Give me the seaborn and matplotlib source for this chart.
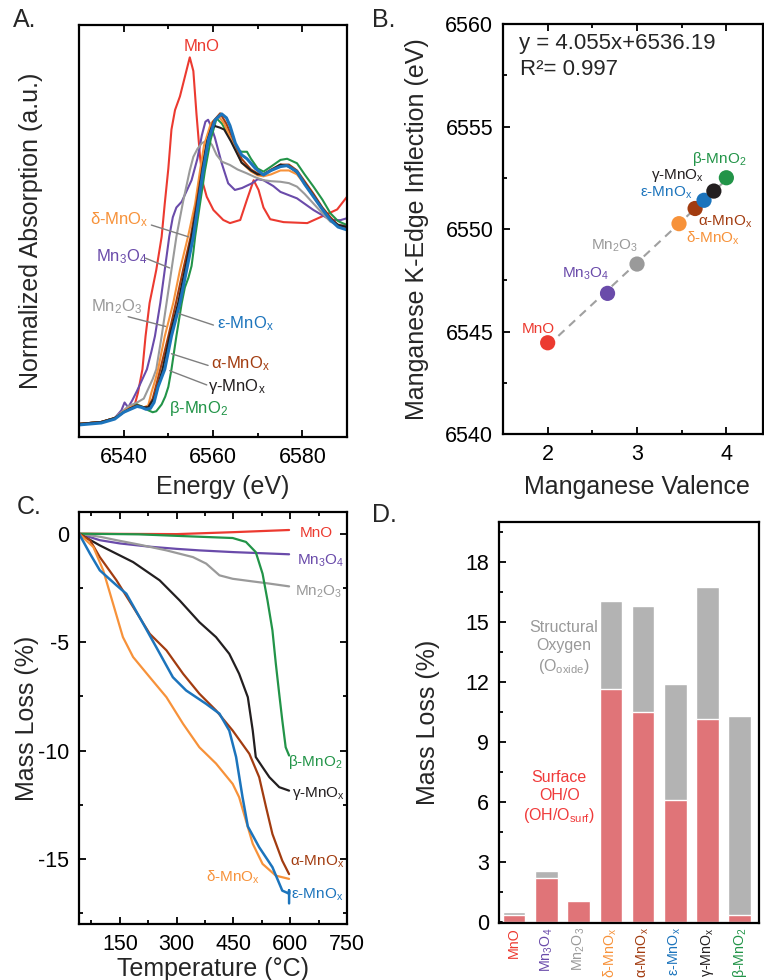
import matplotlib
matplotlib.use("Agg")
import matplotlib.pyplot as plt
import seaborn as sns
import numpy as np
from matplotlib.ticker import MultipleLocator

sns.set_style("ticks")
plt.rcParams['font.family'] = ['Liberation Sans', 'DejaVu Sans']
plt.rcParams['mathtext.default'] = 'regular'
plt.rcParams['axes.unicode_minus'] = False
plt.rcParams['axes.linewidth'] = 1.6

# ---------------- data ----------------
names = ["MnO", "Mn3O4", "Mn2O3", "delta", "alpha", "eps", "gamma", "beta"]
labels = ["MnO", "Mn$_3$O$_4$", "Mn$_2$O$_3$", "δ-MnO$_x$", "α-MnO$_x$",
          "ε-MnO$_x$", "γ-MnO$_x$", "β-MnO$_2$"]
colors = {"MnO": "#EC3A30", "Mn3O4": "#6A4BAA", "Mn2O3": "#9A9A9A",
          "delta": "#F7923A", "alpha": "#A23C10", "eps": "#1C74BC",
          "gamma": "#231F20", "beta": "#229448"}

# Panel A: XANES (energy eV, normalized absorption)
xanes_MnO = [(6530,-0.01),(6535,0.0),(6538,0.02),(6540,0.05),(6541.5,0.07),(6542.5,0.09),(6543.2,0.15),
             (6544.2,0.27),(6544.9,0.44),(6545.8,0.61),(6547.3,0.78),(6548.5,0.95),(6549.2,1.12),(6550.0,1.30),
             (6550.7,1.50),(6551.5,1.60),(6552.6,1.67),(6553.7,1.77),(6554.8,1.87),(6555.6,1.80),(6556.3,1.58),
             (6557.1,1.36),(6557.8,1.22),(6558.6,1.155),(6560.1,1.087),(6562.3,1.036),(6563.8,1.02),
             (6566.1,1.036),(6567.6,1.14),(6569.1,1.24),(6570.2,1.19),(6571.3,1.10),(6572.8,1.04),
             (6575.8,1.025),(6581.1,1.02),(6584.0,1.05),(6587.8,1.09),(6590,1.155)]
xanes_Mn3O4 = [(6530,-0.01),(6535,0.0),(6538,0.02),(6539.5,0.06),(6540.2,0.10),(6541.0,0.075),(6541.9,0.11),
               (6543.0,0.16),(6544.2,0.22),(6545.2,0.27),(6546.2,0.36),(6547.0,0.44),(6548.2,0.61),(6549.2,0.78),
               (6550.2,0.95),(6551.0,1.05),(6551.8,1.10),(6553.0,1.13),(6554.0,1.18),(6555.2,1.24),(6556.5,1.35),
               (6557.5,1.47),(6558.3,1.54),(6558.9,1.55),(6559.5,1.52),(6560.4,1.46),(6561.95,1.327),
               (6563.4,1.224),(6564.9,1.19),(6566.5,1.20),(6568.7,1.224),(6570.0,1.245),(6571.3,1.24),
               (6573.5,1.21),(6575.1,1.18),(6578.8,1.147),(6582.5,1.087),(6586.3,1.036),(6588.5,1.035),(6590,1.045)]
xanes_Mn2O3 = [(6530,-0.01),(6535,0.0),(6538,0.02),(6540,0.06),(6541,0.08),(6542,0.09),(6543,0.10),
               (6544.5,0.12),(6545.5,0.17),(6546.5,0.22),(6547.3,0.27),(6548.5,0.44),(6549.6,0.61),
               (6550.7,0.78),(6551.8,0.95),(6553.3,1.13),(6554.8,1.29),(6555.6,1.36),(6556.5,1.40),
               (6557.5,1.43),(6558.9,1.446),(6559.8,1.42),(6560.8,1.37),(6562.0,1.335),(6563.8,1.318),
               (6565.5,1.295),(6567.6,1.275),(6569.5,1.255),(6571.3,1.24),(6573,1.235),(6575.1,1.232),
               (6577,1.225),(6578.8,1.207),(6580.5,1.17),(6582.5,1.12),(6584.5,1.07),(6586.3,1.027),
               (6588,1.012),(6590,1.01)]
xanes_delta = [(6530,-0.01),(6535,0.0),(6538,0.02),(6540,0.055),(6541.5,0.075),(6543,0.085),(6544.5,0.075),
               (6545.5,0.085),(6546.2,0.15),(6547.0,0.21),(6547.7,0.27),(6549.2,0.44),(6551.1,0.61),
               (6552.6,0.78),(6554.4,0.95),(6556.0,1.12),(6557.1,1.29),(6558.0,1.42),(6559.5,1.53),
               (6561.2,1.57),(6562.5,1.53),(6564.0,1.45),(6566.4,1.33),(6568.5,1.285),(6570.0,1.265),
               (6571.3,1.26),(6573,1.27),(6575.1,1.29),(6577,1.29),(6578.8,1.27),(6580.5,1.22),
               (6582.5,1.155),(6584.5,1.09),(6586.3,1.04),(6588,1.005),(6590,0.99)]
xanes_alpha = [(6530,-0.01),(6535,0.0),(6538,0.02),(6540,0.05),(6541.5,0.07),(6543,0.085),(6544.5,0.075),
               (6545.5,0.075),(6546.5,0.12),(6547.3,0.19),(6548.2,0.27),(6550.0,0.44),(6551.7,0.61),
               (6553.3,0.78),(6555.0,0.95),(6556.3,1.12),(6557.5,1.29),(6558.5,1.42),(6560,1.54),
               (6561.6,1.583),(6563,1.53),(6564.5,1.45),(6566.4,1.35),(6568.5,1.295),(6570,1.275),
               (6571.3,1.27),(6573,1.295),(6575.1,1.32),(6577,1.32),(6578.8,1.29),(6580.5,1.235),
               (6582.5,1.17),(6584.5,1.10),(6586.3,1.05),(6588,1.01),(6590,1.0)]
xanes_gamma = [(6530,-0.01),(6535,0.0),(6538,0.02),(6540,0.05),(6541.5,0.07),(6543,0.085),(6544.5,0.075),
               (6545.5,0.075),(6546.8,0.12),(6547.7,0.19),(6548.7,0.27),(6550.3,0.44),(6552.2,0.61),
               (6553.7,0.78),(6555.2,0.95),(6556.5,1.12),(6557.6,1.29),(6558.7,1.44),(6559.6,1.505),
               (6560.4,1.518),(6561.5,1.51),(6562.5,1.50),(6564,1.44),(6566.4,1.33),(6568.5,1.29),
               (6570,1.27),(6571.3,1.27),(6573,1.29),(6575.1,1.32),(6577,1.31),(6578.8,1.28),
               (6580.5,1.225),(6582.5,1.16),(6584.5,1.095),(6586.3,1.04),(6588,1.01),(6590,1.0)]
xanes_eps = [(6530,-0.015),(6535,-0.005),(6538,0.015),(6540,0.05),(6541.5,0.065),(6543,0.08),(6544.0,0.075),
             (6545.0,0.065),(6546.0,0.07),(6546.8,0.10),(6547.7,0.18),(6549.2,0.27),(6550.7,0.44),
             (6552.6,0.61),(6554.1,0.78),(6555.6,0.95),(6556.7,1.12),(6557.8,1.29),(6559,1.45),
             (6560.5,1.55),(6561.95,1.58),(6563,1.56),(6563.8,1.52),(6565,1.43),(6566.4,1.37),
             (6567.6,1.35),(6569.5,1.30),(6571.3,1.267),(6573,1.29),(6575.1,1.31),(6576.6,1.315),
             (6578.8,1.284),(6580.5,1.22),(6582.5,1.155),(6584.5,1.09),(6586.3,1.036),(6588,1.0),(6590,0.985)]
xanes_beta = [(6530,-0.01),(6535,0.0),(6538,0.02),(6540,0.05),(6541.5,0.07),(6543,0.09),(6544.5,0.075),
              (6545.5,0.06),(6546.5,0.05),(6547.3,0.055),(6548.5,0.09),(6549.3,0.13),(6550.0,0.18),
              (6550.7,0.27),(6551.8,0.44),(6553.0,0.61),(6553.7,0.69),(6554.5,0.74),(6555.2,0.80),
              (6555.6,0.87),(6556.0,0.95),(6557.1,1.12),(6558.2,1.29),(6559.5,1.45),(6560.8,1.557),
              (6562,1.53),(6563.5,1.47),(6565,1.40),(6566.4,1.386),(6567.6,1.386),(6568.5,1.35),
              (6570,1.30),(6571.3,1.284),(6573,1.31),(6575.1,1.344),(6576.6,1.35),(6578.8,1.327),
              (6580.5,1.27),(6582.5,1.207),(6584.5,1.14),(6586.3,1.07),(6588,1.03),(6590,1.01)]

# Panel B: valence vs edge inflection
valence = [2.0, 2.67, 3.0, 3.47, 3.65, 3.75, 3.86, 4.0]
inflection = [6544.45, 6546.86, 6548.29, 6550.26, 6551.0, 6551.4, 6551.85, 6552.5]
fit_slope, fit_intercept, fit_r2 = 4.055, 6536.19, 0.997

# Panel C: TGA (temperature C, mass loss %)
tga_MnO = [(42,0),(300,-0.02),(450,0.07),(597,0.17)]
tga_Mn3O4 = [(42,0),(97,-0.3),(150,-0.45),(229,-0.6),(300,-0.7),(360,-0.77),(450,-0.85),(597,-0.95)]
tga_Mn2O3 = [(42,0),(100,-0.15),(141,-0.3),(200,-0.5),(273,-0.77),(343,-1.08),(378,-1.38),(413,-1.92),
             (448,-2.08),(500,-2.2),(536,-2.28),(597,-2.43)]
tga_beta = [(42,0),(200,-0.03),(300,-0.1),(448,-0.2),(483,-0.38),(509,-0.85),(527,-1.85),(540,-3.08),
            (553,-4.46),(562,-6.0),(571,-7.4),(579,-8.6),(588,-9.85),(597,-10.23)]
tga_gamma = [(42,0),(97,-0.54),(185,-1.31),(255,-2.15),(308,-3.08),(360,-4.08),(404,-4.77),(439,-5.54),
             (465,-6.46),(488,-7.54),(501,-9.08),(509,-10.3),(527,-10.77),(545,-11.23),(571,-11.69),(597,-11.85)]
tga_alpha = [(42,0),(71,-0.3),(97,-1.08),(141,-2.15),(185,-3.38),(229,-4.62),(273,-5.38),(317,-6.46),
             (360,-7.38),(404,-8.15),(448,-9.08),(492,-10.15),(518,-11.23),(536,-12.6),(553,-13.85),
             (579,-15.08),(597,-15.7)]
tga_delta = [(42,0),(80,-0.62),(106,-1.69),(132,-3.23),(158,-4.77),(185,-5.69),(229,-6.62),(273,-7.54),
             (317,-8.77),(360,-9.85),(404,-10.6),(448,-11.54),(465,-12.15),(483,-13.23),(501,-14.3),
             (527,-15.23),(562,-15.77),(597,-15.92)]
tga_eps = [(42,0),(71,-0.92),(97,-1.69),(141,-2.38),(167,-2.77),(202,-3.85),(246,-5.23),(290,-6.62),
           (325,-7.23),(378,-7.85),(413,-8.3),(439,-9.08),(457,-10.3),(474,-12.15),(488,-13.5),
           (518,-14.46),(553,-15.38),(579,-16.46),(597,-16.6),(597,-16.45),(597,-17.05)]

# Panel D: mass loss (%)
surface_loss = [0.33, 2.2, 1.03, 11.67, 10.49, 6.1, 10.17, 0.33]
total_loss = [0.5, 2.54, 1.08, 16.03, 15.78, 11.92, 16.74, 10.29]

# ---------------- figure ----------------
fig = plt.figure(figsize=(7.64, 9.8), dpi=100)
TICK = 15.5
LAB = 18


def style(ax, top=False, right=False, left=True, bottom=True):
    ax.tick_params(which='both', direction='in', top=top, right=right, left=left,
                   bottom=bottom, width=1.3, labelsize=TICK, pad=7, colors='black')
    ax.tick_params(which='major', length=5)
    ax.tick_params(which='minor', length=3)
    for s in ax.spines.values():
        s.set_visible(True)
        s.set_linewidth(1.6)
        s.set_color('black')


# ---- Panel A ----
axA = fig.add_axes([79/764, 1-437/980, 268/764, 412/980])
xanes = {"MnO": xanes_MnO, "Mn3O4": xanes_Mn3O4, "Mn2O3": xanes_Mn2O3, "beta": xanes_beta,
         "delta": xanes_delta, "alpha": xanes_alpha, "gamma": xanes_gamma, "eps": xanes_eps}
for k, pts in xanes.items():
    e, a = zip(*pts)
    sns.lineplot(x=list(e), y=list(a), ax=axA, color=colors[k], sort=False, estimator=None,
                 lw=2.2 if k == "eps" else 1.5)
axA.set_xlim(6530, 6590)
axA.set_ylim(-0.077, 2.036)
axA.set_xticks([6540, 6560, 6580])
axA.xaxis.set_minor_locator(MultipleLocator(10))
axA.set_yticks([])
style(axA, top=True, left=False)
axA.set_xlabel("Energy (eV)", fontsize=LAB)
axA.set_ylabel("Normalized Absorption (a.u.)", fontsize=LAB)
axA.xaxis.set_label_coords(0.537, -0.092)
axA.yaxis.set_label_coords(-0.134, 0.5)

fsA = 12
axA.text(6557.46, 1.925, "MnO", color=colors["MnO"], fontsize=fsA, ha='center', va='center')
a_labels = [("delta", (6539.1, 1.036), (6546.2, 1.01), (6554.45, 0.95)),
            ("Mn3O4", (6539.5, 0.85), (6544.9, 0.84), (6550.3, 0.79)),
            ("Mn2O3", (6538.4, 0.59), (6541.0, 0.54), (6549.4, 0.49)),
            ("eps", (6567.2, 0.506), (6560.1, 0.497), (6552.2, 0.557)),
            ("alpha", (6566.1, 0.30), (6558.9, 0.29), (6550.7, 0.35)),
            ("gamma", (6565.3, 0.18), (6558.6, 0.19), (6550.3, 0.263))]
for k, tpos, l0, l1 in a_labels:
    axA.text(*tpos, labels[names.index(k)], color=colors[k], fontsize=fsA, ha='center', va='center')
    axA.annotate("", xy=l1, xytext=l0,
                 arrowprops=dict(arrowstyle='-', color='#7f7f7f', lw=1.0, shrinkA=0, shrinkB=0))
axA.text(6556.7, 0.07, labels[names.index("beta")], color=colors["beta"], fontsize=fsA,
         ha='center', va='center')

# ---- Panel B ----
axB = fig.add_axes([503/764, 1-434/980, 260/764, 410/980])
fit_x = np.array([min(valence), max(valence)])
sns.lineplot(x=fit_x, y=fit_slope*fit_x + fit_intercept, ax=axB, color='#a0a0a0',
             lw=1.5, linestyle=(0, (4, 3)), zorder=1)
sns.scatterplot(x=valence, y=inflection, hue=names, palette=colors, s=120, ax=axB,
                legend=False, edgecolor='none', zorder=3)
axB.set_xlim(1.5, 4.41)
axB.set_ylim(6540, 6560)
axB.set_xticks([2, 3, 4])
axB.xaxis.set_minor_locator(MultipleLocator(0.5))
axB.set_yticks([6540, 6545, 6550, 6555, 6560])
axB.yaxis.set_minor_locator(MultipleLocator(2.5))
style(axB, top=True)
axB.set_xlabel("Manganese Valence", fontsize=LAB)
axB.set_ylabel("Manganese K-Edge Inflection (eV)", fontsize=LAB)
axB.xaxis.set_label_coords(0.515, -0.1)
axB.yaxis.set_label_coords(-0.285, 0.5)
axB.text(0.06, 0.953, f"y = {fit_slope:.3f}x+{fit_intercept:.2f}", transform=axB.transAxes,
         fontsize=16, ha='left', va='center')
axB.text(0.065, 0.888, f"R²= {fit_r2:.3f}", transform=axB.transAxes,
         fontsize=16, ha='left', va='center')
b_pos = {"MnO": (1.90, 6545.12), "Mn3O4": (2.42, 6547.8), "Mn2O3": (2.75, 6549.19),
         "beta": (3.92, 6553.4), "gamma": (3.455, 6552.63), "eps": (3.33, 6551.79),
         "alpha": (3.99, 6550.36), "delta": (3.85, 6549.55)}
for k, p in b_pos.items():
    axB.text(*p, labels[names.index(k)], color=colors[k], fontsize=11, ha='center', va='center')

# ---- Panel C ----
axC = fig.add_axes([79/764, 1-924/980, 268/764, 412/980])
tga = {"MnO": tga_MnO, "Mn3O4": tga_Mn3O4, "Mn2O3": tga_Mn2O3, "beta": tga_beta,
       "gamma": tga_gamma, "alpha": tga_alpha, "delta": tga_delta, "eps": tga_eps}
for k, pts in tga.items():
    t, m = zip(*pts)
    sns.lineplot(x=list(t), y=list(m), ax=axC, color=colors[k], sort=False, estimator=None,
                 lw=1.6 if k != "eps" else 1.8)
axC.set_xlim(42, 750)
axC.set_ylim(-18, 1)
axC.set_xticks([150, 300, 450, 600, 750])
axC.xaxis.set_minor_locator(MultipleLocator(75))
axC.set_yticks([0, -5, -10, -15])
axC.yaxis.set_minor_locator(MultipleLocator(2.5))
style(axC, top=True, right=True)
axC.set_xlabel("Temperature (°C)", fontsize=LAB)
axC.set_ylabel("Mass Loss (%)", fontsize=LAB)
axC.xaxis.set_label_coords(0.5, -0.079)
axC.yaxis.set_label_coords(-0.149, 0.5)
c_pos = {"MnO": (669, 0.03), "Mn3O4": (680, -1.23), "Mn2O3": (676, -2.69), "beta": (665, -10.54),
         "gamma": (676, -12.0), "alpha": (671, -15.15), "delta": (448, -15.85), "eps": (671, -16.65)}
for k, p in c_pos.items():
    axC.text(*p, labels[names.index(k)], color=colors[k], fontsize=11, ha='center', va='center',
             clip_on=False)

# ---- Panel D ----
axD = fig.add_axes([499/764, 1-923/980, 260/764, 401/980])
bar_red = "#E07478"
bar_gray = "#B3B3B3"
sns.barplot(x=labels, y=total_loss, order=labels, color=bar_gray, saturation=1, width=0.7,
            edgecolor='white', linewidth=1.0, ax=axD)
sns.barplot(x=labels, y=surface_loss, order=labels, color=bar_red, saturation=1, width=0.7,
            edgecolor='white', linewidth=1.0, ax=axD)
axD.set_xlim(-0.47, 7.6)
axD.set_ylim(-0.05, 20)
axD.set_yticks([0, 3, 6, 9, 12, 15, 18])
axD.yaxis.set_minor_locator(MultipleLocator(1.5))
style(axD, bottom=False)
axD.tick_params(axis='x', length=0, labelsize=10.3, pad=3)
for tl, k in zip(axD.get_xticklabels(), names):
    tl.set_rotation(90)
    tl.set_color(colors[k])
    tl.set_va('top')
axD.set_xlabel("")
axD.set_ylabel("Mass Loss (%)", fontsize=LAB)
axD.yaxis.set_label_coords(-0.227, 0.5)
axD.text(1.55, 13.7, "Structural\nOxygen\n(O$_{oxide}$)", color='#999999', fontsize=11.5,
         ha='center', va='center', linespacing=1.25)
axD.text(1.40, 6.23, "Surface\nOH/O\n(OH/O$_{surf}$)", color='#F03A3A', fontsize=11.5,
         ha='center', va='center', linespacing=1.25)

# panel letters
for letter, x, y in [("A.", 13, 8), ("B.", 372, 8), ("C.", 17, 495), ("D.", 372, 503)]:
    fig.text(x/764, 1-y/980, letter, fontsize=18, ha='left', va='top')

fig.savefig("out.png", dpi=100)
